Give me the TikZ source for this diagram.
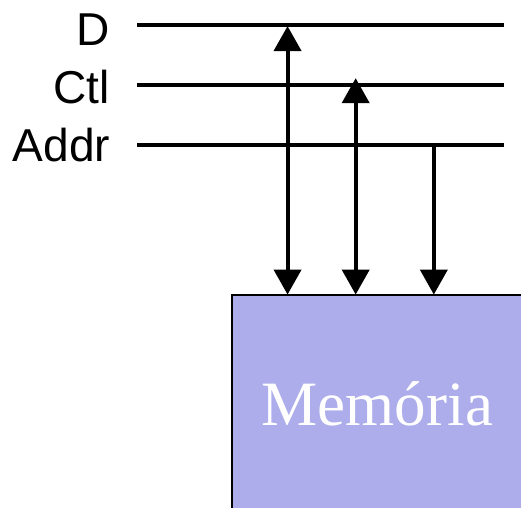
\documentclass[tikz,border=0pt]{standalone}
\usepackage{fontspec}
\setmainfont{Liberation Serif}
\newfontfamily\labelfont{Liberation Sans}
\usetikzlibrary{arrows.meta}
\definecolor{memfill}{HTML}{ADADEB}
\tikzset{
  tip/.tip={Triangle[length=25pt,width=27pt]},
  bus/.style={line width=4pt},
  wire/.style={line width=4pt, -tip},
  biwire/.style={line width=4pt, tip-tip},
  buslabel/.style={anchor=base east, inner sep=0pt, font=\labelfont\fontsize{46}{46}\selectfont},
  memory/.style={fill=memfill, anchor=north west,
    minimum width=310pt, minimum height=230pt, inner sep=0pt, outer sep=0pt},
  memedge/.style={line width=2pt, line cap=rect},
  memlabel/.style={anchor=base west, inner sep=0pt, text=white, font=\fontsize{63}{63}\selectfont}
}
\begin{document}
\begin{tikzpicture}[x=1pt,y=-1pt]
  \useasboundingbox (0,0) rectangle (520,507);
  \begin{scope}
    \clip (-5,-5) rectangle (530,520);
    % memory block, running off the right and bottom edges
    \node[memory] (mem) at (232,294) {};
    \draw[memedge] (mem.south west) -- (mem.north west) -- (mem.north east);
  \end{scope}
  \node[memlabel] (memtext) at (261,425) {Memória};
  % bus lines
  \coordinate (d0) at (137,25);  \coordinate (d1) at (503,25);
  \coordinate (c0) at (137,85);  \coordinate (c1) at (503,85);
  \coordinate (a0) at (137,145); \coordinate (a1) at (503,145);
  \draw[bus] (d0) -- (d1);
  \draw[bus] (c0) -- (c1);
  \draw[bus] (a0) -- (a1);
  \node[buslabel] (dlab) at (110,45) {D};
  \node[buslabel] (clab) at (110,103) {Ctl};
  \node[buslabel] (alab) at (110,161) {Addr};
  % taps from the buses down to the memory
  \coordinate (dt) at (287,26);
  \coordinate (ct) at (355,78);
  \coordinate (at) at (433,145);
  \draw[biwire] (dt) -- (dt |- mem.north);
  \draw[biwire] (ct) -- (ct |- mem.north);
  \draw[wire] (at) -- (at |- mem.north);
\end{tikzpicture}
\end{document}
